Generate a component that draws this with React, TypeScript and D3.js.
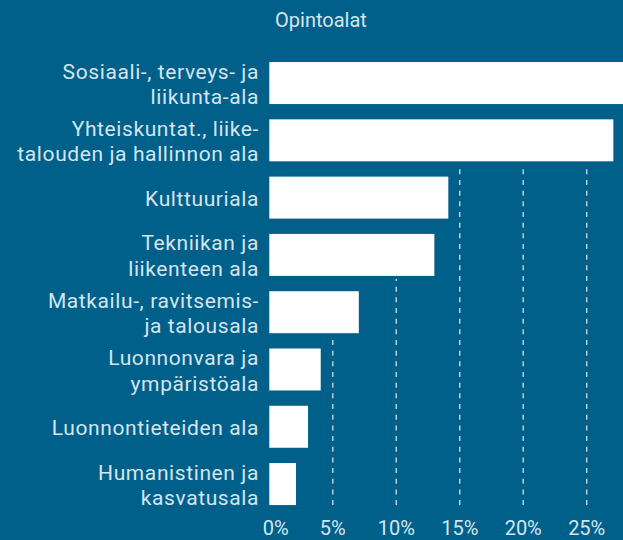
import React from "react";
import * as d3 from "d3";

const categories = [
  "Sosiaali-, terveys- ja\nliikunta-ala",
  "Yhteiskuntat., liike-\ntalouden ja hallinnon ala",
  "Kulttuuriala",
  "Tekniikan ja\nliikenteen ala",
  "Matkailu-, ravitsemis-\nja talousala",
  "Luonnonvara ja\nympäristöala",
  "Luonnontieteiden ala",
  "Humanistinen ja\nkasvatusala",
];
const values = [29, 27.1, 14.1, 13.0, 7.05, 4.05, 3.05, 2.1];
const ticks = [0, 5, 10, 15, 20, 25];
const title = "Opintoalat";

const W = 623;
const H = 540;
const BG = "#00608a";
const TEXT = "#d5e5ee";
const GRID = "#c3d8e4";

export default function App() {
  const x = d3.scaleLinear().domain([0, 25]).range([269.3, 586.7]);
  const y = d3
    .scaleBand<number>()
    .domain(d3.range(categories.length))
    .range([54.4, 512.7])
    .paddingInner(0.267)
    .paddingOuter(0.1335);
  const bw = y.bandwidth();
  const period = 10.67;
  const dashOrigin = 169.3;
  const gridBottom = 505;

  return (
    <svg
      width={W}
      height={H}
      style={{ position: "absolute", left: 0, top: 0, display: "block" }}
      fontFamily="Roboto, sans-serif"
    >
      <rect x={0} y={0} width={W} height={H} fill={BG} />
      <text x={321} y={27} fill={TEXT} fontSize={20} textAnchor="middle">
        {title}
      </text>
      {ticks
        .filter((t) => t > 0)
        .map((t) => {
          let last = -1;
          values.forEach((v, i) => {
            if (v > t) last = i;
          });
          const ys = last >= 0 ? (y(last) as number) + bw + 3 : (y(0) as number);
          const off = (((ys - dashOrigin) % period) + period) % period;
          return (
            <line
              key={t}
              x1={x(t)}
              x2={x(t)}
              y1={ys}
              y2={gridBottom}
              stroke={GRID}
              strokeWidth={1.4}
              strokeDasharray="5 5.67"
              strokeDashoffset={off}
            />
          );
        })}
      {values.map((v, i) => (
        <rect
          key={i}
          x={x(0)}
          y={y(i)}
          width={x(v) - x(0)}
          height={bw}
          fill="#ffffff"
        />
      ))}
      {categories.map((c, i) => {
        const lines = c.split("\n");
        const cy = (y(i) as number) + bw / 2;
        const lh = 25.5;
        return (
          <text
            key={i}
            fill={TEXT}
            fontSize={21}
            letterSpacing={0.6}
            textAnchor="end"
          >
            {lines.map((l, j) => (
              <tspan
                key={j}
                x={259}
                y={cy + 7.5 + 0.8 + (j - (lines.length - 1) / 2) * lh}
              >
                {l}
              </tspan>
            ))}
          </text>
        );
      })}
      {ticks.map((t, i) => (
        <text
          key={t}
          x={i === 0 ? x(t) - 6.5 : x(t)}
          y={535}
          fill={TEXT}
          fontSize={20}
          textAnchor={i === 0 ? "start" : "middle"}
        >
          {t + "%"}
        </text>
      ))}
    </svg>
  );
}
